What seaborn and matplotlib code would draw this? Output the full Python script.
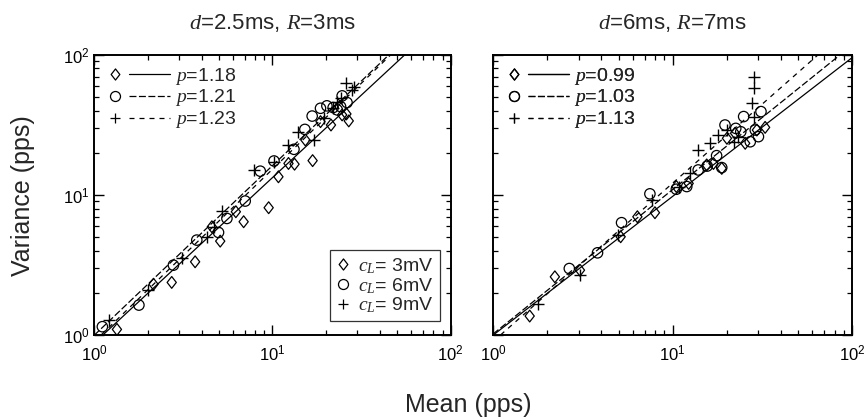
import numpy as np
import pandas as pd
import matplotlib
matplotlib.use("Agg")
import matplotlib.pyplot as plt
from matplotlib.lines import Line2D
from matplotlib.path import Path
from matplotlib.legend_handler import HandlerTuple
import seaborn as sns

# ---------------- data ----------------
titles = ["$d$=2.5ms, $R$=3ms", "$d$=6ms, $R$=7ms"]
cl_labels = ["$c_L$= 3mV", "$c_L$= 6mV", "$c_L$= 9mV"]

# left panel (d=2.5ms)
L_dia_mean = [1.34, 2.15, 2.72, 3.68, 4.57, 5.09, 6.23, 6.89, 9.52, 10.8, 12.3, 13.3, 15.3, 16.8, 18.6, 21.3, 24.6, 26.0, 26.8]
L_dia_var  = [1.10, 2.31, 2.38, 3.34, 5.94, 4.69, 7.6, 6.45, 8.12, 13.5, 16.8, 16.6, 24.7, 17.6, 33.4, 31.6, 37.3, 37.9, 33.8]
L_cir_mean = [1.11, 1.78, 2.78, 3.76, 4.98, 5.55, 7.03, 8.54, 10.2, 13.2, 15.2, 16.7, 18.6, 20.2, 21.9, 23.1, 24.1, 24.6, 26.2]
L_cir_var  = [1.15, 1.64, 3.16, 4.77, 5.41, 6.81, 9.06, 14.8, 17.5, 21.2, 29.4, 36.6, 41.6, 43.3, 42.1, 40.5, 42.8, 51.0, 45.7]
L_plu_mean = [1.21, 2.01, 3.10, 4.28, 4.67, 5.24, 7.84, 10.2, 12.3, 13.9, 17.1, 19.4, 21.9, 23.1, 24.1, 25.7, 28.0, 28.5]
L_plu_var  = [1.29, 2.10, 3.53, 5.04, 5.94, 7.69, 15.1, 17.3, 22.8, 28.3, 24.7, 35.3, 41.6, 46.4, 49.0, 62.8, 56.2, 59.0]

# right panel (d=6ms)
R_dia_mean = [1.60, 2.21, 3.05, 5.14, 6.37, 7.98, 10.5, 12.3, 15.5, 16.9, 18.8, 20.1, 22.3, 25.4, 29.5, 32.8]
R_dia_var  = [1.37, 2.61, 2.91, 5.04, 7.00, 7.48, 11.5, 12.1, 16.4, 16.8, 15.5, 25.4, 27.6, 23.4, 29.1, 30.4]
R_cir_mean = [2.66, 3.82, 5.20, 7.48, 10.5, 12.0, 13.9, 15.6, 17.6, 18.8, 19.6, 22.5, 24.0, 24.9, 27.1, 28.9, 30.1, 31.1]
R_cir_var  = [2.99, 3.87, 6.35, 10.2, 11.0, 11.5, 15.1, 16.1, 19.1, 15.7, 31.6, 29.9, 28.3, 36.3, 24.0, 29.1, 26.1, 39.4]
R_plu_mean = [1.78, 3.05, 4.99, 7.65, 10.8, 12.5, 13.9, 16.2, 18.0, 20.1, 21.9, 23.3, 27.7, 28.3, 28.3, 28.3]
R_plu_var  = [1.68, 2.68, 5.18, 9.21, 11.5, 14.3, 20.9, 23.4, 26.8, 29.1, 24.0, 26.1, 45.2, 57.8, 70.0, 36.3]

# power-law fits  Var = a * Mean^p
L_p = [1.18, 1.21, 1.23]
L_a = [0.88, 1.00, 0.90]
R_p = [0.99, 1.03, 1.13]
R_a = [1.00, 1.02, 0.90]

# ---------------- style ----------------
sns.set_theme(style="ticks")
plt.rcParams["font.family"] = ["Liberation Sans", "DejaVu Sans"]
plt.rcParams["mathtext.fontset"] = "custom"
plt.rcParams["mathtext.it"] = "Liberation Serif:italic"
plt.rcParams["mathtext.rm"] = "Liberation Sans"
plt.rcParams["mathtext.sf"] = "Liberation Sans"
plt.rcParams["lines.scale_dashes"] = False

diamond = Path([(0, 1), (0.78, 0), (0, -1), (-0.78, 0), (0, 1)],
               [Path.MOVETO, Path.LINETO, Path.LINETO, Path.LINETO, Path.CLOSEPOLY])
markers = [diamond, "o", "+"]
lstyles = ["-", (0, (5, 1.8)), (0, (3.6, 3.6))]
leg_ms = [8.0, 7.2, 7.5]
FS_LEG = 14

fig = plt.figure(figsize=(8.65, 4.19), dpi=100)
ax1 = fig.add_axes([0.109, 0.200, 0.412, 0.669])
ax2 = fig.add_axes([0.570, 0.200, 0.415, 0.669])

panels = [
    (ax1, [(L_dia_mean, L_dia_var), (L_cir_mean, L_cir_var), (L_plu_mean, L_plu_var)], L_p, L_a),
    (ax2, [(R_dia_mean, R_dia_var), (R_cir_mean, R_cir_var), (R_plu_mean, R_plu_var)], R_p, R_a),
]

xfit = np.logspace(0, 2, 200)
for i, (ax, series, ps, As) in enumerate(panels):
    ax.set_xscale("log")
    ax.set_yscale("log")
    for k, (mx, vy) in enumerate(series):
        df = pd.DataFrame({"mean": mx, "var": vy})
        if k == 2:
            sns.scatterplot(data=df, x="mean", y="var", ax=ax, marker="+", color="black",
                            s=70, linewidth=1.0, zorder=3)
        else:
            sns.scatterplot(data=df, x="mean", y="var", ax=ax, marker=markers[k],
                            facecolors="none", edgecolor="black", s=72 if k == 0 else 56,
                            linewidth=0.9, zorder=3)
    for k in range(3):
        fdf = pd.DataFrame({"mean": xfit, "var": As[k] * xfit ** ps[k]})
        sns.lineplot(data=fdf, x="mean", y="var", ax=ax, color="black", lw=0.9,
                     linestyle=lstyles[k], zorder=2)
    ax.set_xlim(1, 100)
    ax.set_ylim(1, 100)
    ax.set_xlabel("")
    ax.set_ylabel("")
    ax.set_title(titles[i], fontsize=16, pad=19)
    ax.tick_params(which="both", direction="in", top=True, right=True, colors="black",
                   labelsize=12)
    ax.tick_params(which="major", length=7, width=1.0)
    ax.tick_params(which="minor", length=3.5, width=0.9)
    ax.tick_params(axis="x", pad=6)
    for sp in ax.spines.values():
        sp.set_linewidth(1.4)
        sp.set_color("black")
    ax.set_facecolor("white")

    handles = []
    labels = []
    for k in range(3):
        mh = Line2D([], [], marker=markers[k], mfc="none", mec="black", color="black",
                    ls="none", markersize=leg_ms[k], mew=0.9)
        lh = Line2D([], [], color="black", lw=0.9, linestyle=lstyles[k])
        handles.append((mh, lh))
        labels.append(f"$p$={ps[k]:.2f}")
    leg = ax.legend(handles, labels, loc="upper left", bbox_to_anchor=(-0.01, 0.976),
                    frameon=False, fontsize=FS_LEG,
                    handler_map={tuple: HandlerTuple(ndivide=None, pad=-0.33)},
                    handlelength=3.9, handletextpad=0.25, labelspacing=0.05,
                    borderaxespad=0.0, borderpad=0.2)
    ax.add_artist(leg)

ax2.tick_params(axis="y", which="both", labelleft=False)

cl_handles = [Line2D([], [], marker=markers[k], mfc="none", mec="black", color="black",
                     ls="none", markersize=leg_ms[k], mew=0.9) for k in range(3)]
leg2 = ax1.legend(cl_handles, cl_labels, loc="lower right", bbox_to_anchor=(0.969, 0.05),
                  frameon=True, fancybox=False, fontsize=FS_LEG, handlelength=0.8,
                  handletextpad=0.37, labelspacing=0.0, borderpad=0.3, borderaxespad=0.0)
leg2.get_frame().set_edgecolor("black")
leg2.get_frame().set_linewidth(0.9)

fig.text(0.0266, 0.532, "Variance (pps)", rotation=90, ha="center", va="center", fontsize=18)
fig.text(0.5416, 0.0174, "Mean (pps)", ha="center", va="baseline", fontsize=18)

fig.savefig("out.png", dpi=100, facecolor="white")
